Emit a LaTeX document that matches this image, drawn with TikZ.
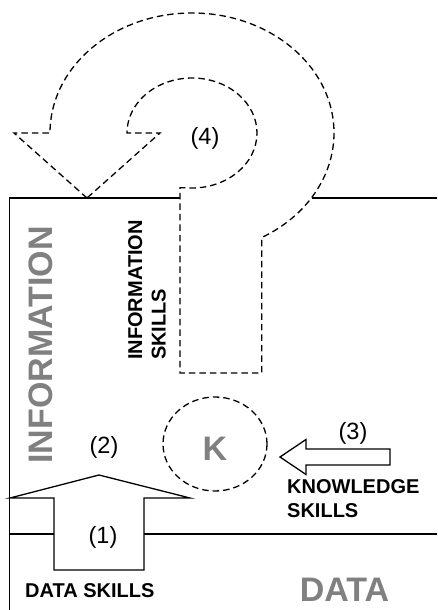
\documentclass[tikz,border=0pt]{standalone}
\usepackage{fontspec}
\setmainfont{Liberation Sans}
\definecolor{levelgray}{RGB}{128,128,128}
\tikzset{
	wall/.style={line width=1.3pt},
	dashline/.style={line width=1.3pt, dash pattern=on 6.5pt off 4pt},
	skill/.style={font=\fontsize{20}{23.5}\selectfont\bfseries, inner sep=0pt, align=left},
	level/.style={font=\fontsize{34}{36}\selectfont\bfseries, text=levelgray, inner sep=0pt},
	stage/.style={font=\fontsize{23.5}{25}\selectfont, inner sep=0pt}
}

\begin{document}
\begin{tikzpicture}[x=1pt, y=1pt]
	\useasboundingbox (0,0) rectangle (437,610);
	% levels
	\draw[wall] (180,412) -- (9.5,412) -- (9.5,0);
	\draw[wall] (312,412) -- (437,412);
	\draw[wall] (9.5,76) -- (437,76);
	% data skills
	\draw[wall, fill=white] (54,40) -- (54,112) -- (10,112) -- (99,135) -- (190,112) -- (144,112) -- (144,40) -- cycle;
	% knowledge skills
	\draw[wall] (280,153) -- (306,170.5) -- (306,161) -- (390,161) -- (390,145) -- (306,145) -- (306,135.5) -- cycle;
	\coordinate (k) at (215,166);
	\draw[dashline] (k) ellipse [x radius=52, y radius=47];
	% information skills
	\coordinate (tip) at (87,412);
	\draw[dashline] (tip) -- (14,477) -- (50,477)
		arc [start angle=180, end angle=-60.6, x radius=142, y radius=120]
		-- (261.7,237) -- (180,237) -- (180,422.3) -- (185.2,422.3)
		arc [start angle=-96, end angle=180, x radius=65, y radius=55]
		-- (160,477) -- cycle;
	\node[level] (K) at (215,161.5) {K};
	\node[level, rotate=90] (info) at (41,265) {INFORMATION};
	\node[level] (data) at (344.5,20) {DATA};
	\node[skill, rotate=90] (infoskills) at (147,320) {INFORMATION\\SKILLS};
	\node[skill, anchor=west] (knowskills) at (287,111.5) {KNOWLEDGE\\SKILLS};
	\node[skill, anchor=west] (dataskills) at (25,19.5) {DATA SKILLS};
	\node[stage] (s1) at (103,73) {(1)};
	\node[stage] (s2) at (104,163) {(2)};
	\node[stage] (s3) at (353,177) {(3)};
	\node[stage] (s4) at (205,472) {(4)};
\end{tikzpicture}
\end{document}
